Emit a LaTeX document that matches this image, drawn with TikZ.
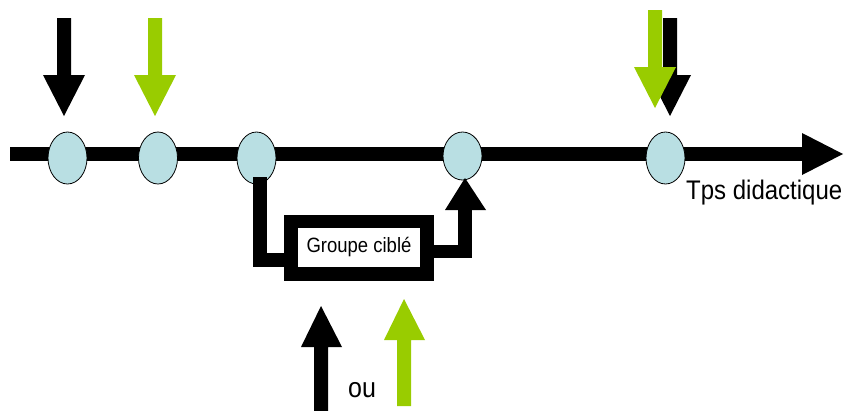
\documentclass[tikz,border=0pt]{standalone}
\usepackage{fontspec}
\usepackage{graphicx}
\setmainfont{Liberation Sans}
\usetikzlibrary{shapes.geometric}
\definecolor{agreen}{RGB}{153,204,0}
\definecolor{eblue}{RGB}{185,223,227}
\tikzset{
  station/.style={ellipse, draw=black, line width=0.8pt, fill=eblue, minimum width=39pt, minimum height=52pt, inner sep=0pt},
  blk/.style={fill=black},
  grn/.style={fill=agreen},
}
\newcommand{\vstr}[1]{\scalebox{1}[1.12]{#1}}
\begin{document}
\begin{tikzpicture}[x=1pt,y=-1pt]
\useasboundingbox (0,0) rectangle (845,410);
% main time axis
\fill[blk] (10,147) rectangle (803,161);
\fill[blk] (802,133) -- (843,154) -- (802,175) -- cycle;
% stations
\node[station] (e1) at (67.5,158) {};
\node[station] (e2) at (158,158) {};
\node[station] (e3) at (256.5,158) {};
\node[station, minimum height=48pt] (e4) at (462.5,156) {};
\node[station] (e5) at (665.5,158) {};
% top arrows
\fill[blk] (57,18) -- (71,18) -- (71,75) -- (85,75) -- (64,116) -- (43,75) -- (57,75) -- cycle;
\fill[grn] (148,18) -- (162,18) -- (162,75) -- (176,75) -- (155,116) -- (134,75) -- (148,75) -- cycle;
\fill[blk] (663,18) -- (677,18) -- (677,75) -- (691,75) -- (670,116) -- (649,75) -- (663,75) -- cycle;
\fill[grn] (648,10) -- (662,10) -- (662,67) -- (676,67) -- (655,108) -- (634,67) -- (648,67) -- cycle;
% target group box
\fill[blk] (284,215) rectangle (434,281);
\fill[white] (298,228) rectangle (420,267);
\node[font=\fontsize{18.5}{18.5}\selectfont, inner sep=0pt] (grp) at (359,247.5) {\vstr{Groupe ciblé}};
% left connector from e3 into box
\fill[blk] (253,177) rectangle (267,267);
\fill[blk] (253,253) rectangle (284,267);
% right connector from box up to e4
\fill[blk] (434,245) rectangle (472,258);
\fill[blk] (458,209) rectangle (472,258);
\fill[blk] (445,210) -- (465,178) -- (486,210) -- cycle;
% bottom arrows
\fill[blk] (314,412) -- (314,347) -- (301,347) -- (321,306) -- (342,347) -- (328,347) -- (328,412) -- cycle;
\fill[grn] (397,406) -- (397,340) -- (384,340) -- (404,299) -- (425,340) -- (411,340) -- (411,406) -- cycle;
% labels
\node[font=\fontsize{24}{24}\selectfont, inner sep=0pt, anchor=base west] (tps) at (686,199) {\vstr{Tps didactique}};
\node[font=\fontsize{25}{25}\selectfont, inner sep=0pt, anchor=base west] (ou) at (348,397) {\vstr{ou}};
\end{tikzpicture}
\end{document}
